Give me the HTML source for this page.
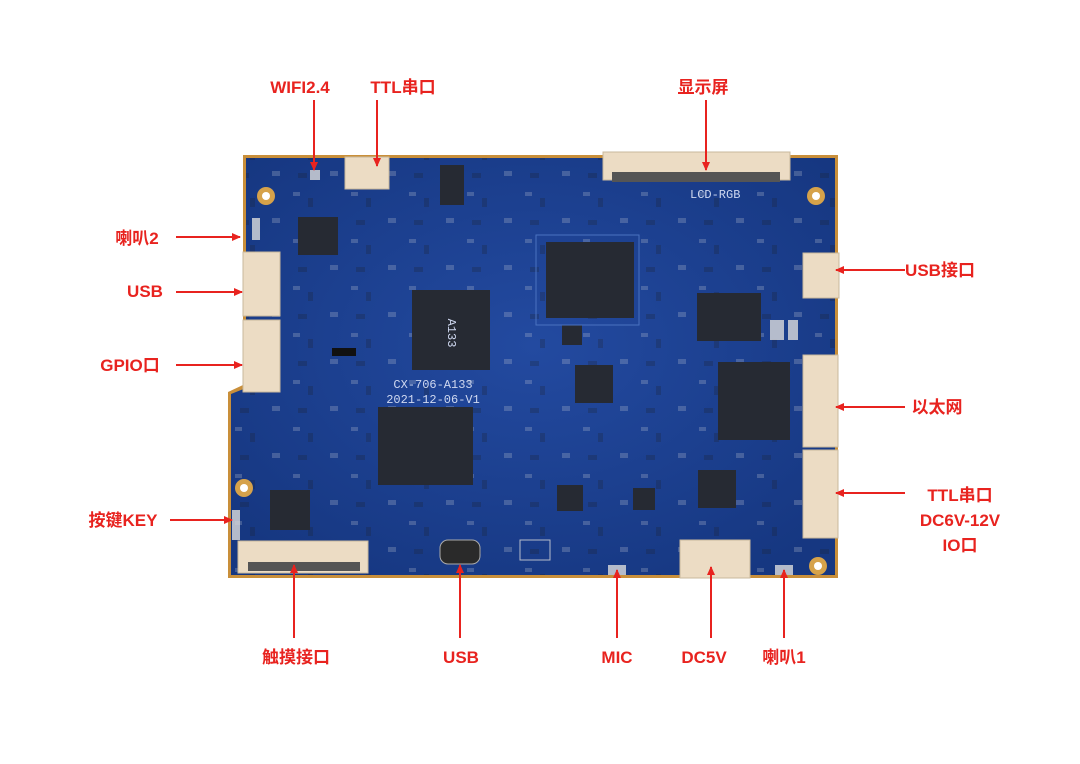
<!DOCTYPE html>
<html><head><meta charset="utf-8"><style>
html,body{margin:0;padding:0;background:#fff;width:1080px;height:764px;overflow:hidden}
svg{display:block}
.l{font-family:"Liberation Sans","Noto Sans CJK SC",sans-serif;font-weight:bold;font-size:17px;fill:#e8231f}
.s{font-family:"Liberation Mono",monospace;font-size:12px;fill:#cfd8f0}
</style></head><body>
<svg width="1080" height="764" viewBox="0 0 1080 764">
<defs>
<marker id="a" markerWidth="10" markerHeight="10" refX="8" refY="5" orient="auto" markerUnits="userSpaceOnUse">
<path d="M0,1 L9,5 L0,9 Z" fill="#e8231f"/></marker>
<radialGradient id="g" cx="50%" cy="45%" r="65%"><stop offset="0" stop-color="#234aa0"/><stop offset="1" stop-color="#163781"/></radialGradient>
<pattern id="p" width="58" height="47" patternUnits="userSpaceOnUse">
<rect x="3" y="4" width="7" height="4" fill="#c8ccd6"/><rect x="18" y="10" width="5" height="9" fill="#1b1f29"/>
<rect x="40" y="30" width="8" height="5" fill="#c8ccd6"/><rect x="8" y="32" width="9" height="5" fill="#1b1f29"/>
</pattern>
</defs>
<path d="M243,155 L838,155 L838,578 L228,578 L228,392 L243,385 Z" fill="#c98f3a"/>
<path d="M246,158 L835,158 L835,575 L231,575 L231,394 L246,388 Z" fill="url(#g)"/>
<path d="M246,158 L835,158 L835,575 L231,575 L231,394 L246,388 Z" fill="url(#p)" opacity="0.25"/>
<g fill="#d6a24a"><circle cx="266" cy="196" r="9"/><circle cx="816" cy="196" r="9"/><circle cx="244" cy="488" r="9"/><circle cx="818" cy="566" r="9"/></g>
<g fill="#fff"><circle cx="266" cy="196" r="4"/><circle cx="816" cy="196" r="4"/><circle cx="244" cy="488" r="4"/><circle cx="818" cy="566" r="4"/></g>
<g fill="#ecdcc4" stroke="#c9b89c">
<rect x="345" y="157" width="44" height="32"/>
<rect x="603" y="152" width="187" height="28"/>
<rect x="243" y="252" width="37" height="64"/>
<rect x="243" y="320" width="37" height="72"/>
<rect x="803" y="253" width="36" height="45"/>
<rect x="803" y="355" width="35" height="92"/>
<rect x="803" y="450" width="35" height="88"/>
<rect x="680" y="540" width="70" height="38"/>
<rect x="238" y="541" width="130" height="32"/>
</g>
<rect x="612" y="172" width="168" height="10" fill="#555"/>
<rect x="248" y="562" width="112" height="9" fill="#555"/>
<rect x="440" y="540" width="40" height="24" rx="8" fill="#2a2a2a" stroke="#aaa"/>
<g fill="#262a33">
<rect x="412" y="290" width="78" height="80"/>
<rect x="546" y="242" width="88" height="76"/>
<rect x="378" y="407" width="95" height="78"/>
<rect x="718" y="362" width="72" height="78"/>
<rect x="697" y="293" width="64" height="48"/>
<rect x="575" y="365" width="38" height="38"/>
<rect x="698" y="470" width="38" height="38"/>
<rect x="298" y="217" width="40" height="38"/>
<rect x="270" y="490" width="40" height="40"/>
<rect x="440" y="165" width="24" height="40"/>
<rect x="557" y="485" width="26" height="26"/>
<rect x="633" y="488" width="22" height="22"/>
<rect x="562" y="325" width="20" height="20"/>
</g>
<rect x="536" y="235" width="103" height="90" fill="none" stroke="#4a72c0"/>
<text x="451" y="336" class="s" text-anchor="middle" font-size="16" transform="rotate(90 451 333)">A133</text>
<text x="433" y="388" class="s" text-anchor="middle">CX-706-A133</text>
<text x="433" y="403" class="s" text-anchor="middle">2021-12-06-V1</text>
<text x="690" y="198" class="s" font-size="8">LCD-RGB</text>
<g fill="#dcdcdc" opacity="0.8">
<rect x="770" y="320" width="14" height="20"/><rect x="788" y="320" width="10" height="20"/>
<rect x="520" y="540" width="30" height="20" fill="none" stroke="#dcdcdc"/>
<rect x="310" y="170" width="10" height="10"/>
<rect x="252" y="218" width="8" height="22"/>
<rect x="232" y="510" width="8" height="30"/>
<rect x="608" y="565" width="18" height="10"/><rect x="775" y="565" width="18" height="10"/>
</g>
<rect x="332" y="348" width="24" height="8" fill="#111"/>
<g stroke="#e8231f" stroke-width="2" fill="none">
<line x1="314" y1="100" x2="314" y2="170" marker-end="url(#a)"/>
<line x1="377" y1="100" x2="377" y2="166" marker-end="url(#a)"/>
<line x1="706" y1="100" x2="706" y2="170" marker-end="url(#a)"/>
<line x1="176" y1="237" x2="240" y2="237" marker-end="url(#a)"/>
<line x1="176" y1="292" x2="242" y2="292" marker-end="url(#a)"/>
<line x1="176" y1="365" x2="242" y2="365" marker-end="url(#a)"/>
<line x1="170" y1="520" x2="232" y2="520" marker-end="url(#a)"/>
<line x1="905" y1="270" x2="836" y2="270" marker-end="url(#a)"/>
<line x1="905" y1="407" x2="836" y2="407" marker-end="url(#a)"/>
<line x1="905" y1="493" x2="836" y2="493" marker-end="url(#a)"/>
<line x1="294" y1="638" x2="294" y2="565" marker-end="url(#a)"/>
<line x1="460" y1="638" x2="460" y2="565" marker-end="url(#a)"/>
<line x1="617" y1="638" x2="617" y2="570" marker-end="url(#a)"/>
<line x1="711" y1="638" x2="711" y2="567" marker-end="url(#a)"/>
<line x1="784" y1="638" x2="784" y2="570" marker-end="url(#a)"/>
</g>
<g class="l">
<text x="300" y="93" text-anchor="middle">WIFI2.4</text>
<text x="403" y="93" text-anchor="middle">TTL串口</text>
<text x="703" y="93" text-anchor="middle">显示屏</text>
<text x="137" y="244" text-anchor="middle">喇叭2</text>
<text x="145" y="297" text-anchor="middle">USB</text>
<text x="130" y="371" text-anchor="middle">GPIO口</text>
<text x="123" y="526" text-anchor="middle">按键KEY</text>
<text x="940" y="276" text-anchor="middle">USB接口</text>
<text x="937" y="413" text-anchor="middle">以太网</text>
<text x="960" y="501" text-anchor="middle">TTL串口</text>
<text x="960" y="526" text-anchor="middle">DC6V-12V</text>
<text x="960" y="551" text-anchor="middle">IO口</text>
<text x="296" y="663" text-anchor="middle">触摸接口</text>
<text x="461" y="663" text-anchor="middle">USB</text>
<text x="617" y="663" text-anchor="middle">MIC</text>
<text x="704" y="663" text-anchor="middle">DC5V</text>
<text x="784" y="663" text-anchor="middle">喇叭1</text>
</g>
</svg>
</body></html>
